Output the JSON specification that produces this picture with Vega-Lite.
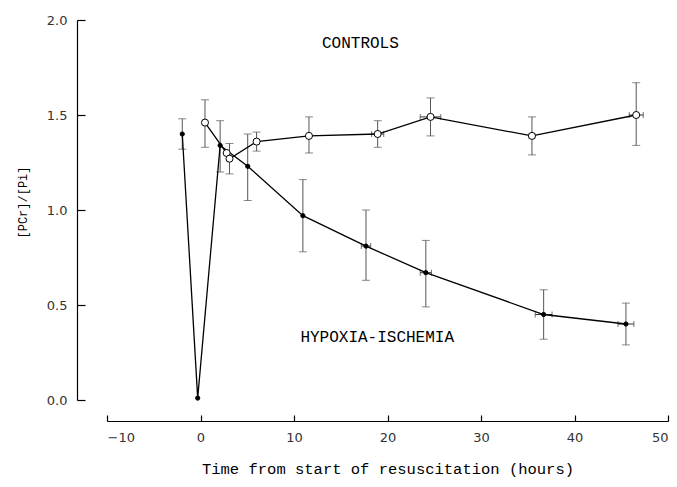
{
  "$schema": "https://vega.github.io/schema/vega-lite/v6.json",
  "width": 561,
  "height": 380,
  "autosize": {"type": "none"},
  "padding": {"left": 107, "top": 20, "right": 9, "bottom": 87},
  "background": "white",
  "config": {"view": {"stroke": null}},
  "datasets": {
    "pts": [
      {"group": "hypoxia", "t": -1.95, "v": 1.40, "vlo": 1.32, "vhi": 1.48},
      {"group": "hypoxia", "t": -0.3, "v": 0.01},
      {"group": "hypoxia", "t": 2.1, "v": 1.34, "vlo": 1.20, "vhi": 1.47},
      {"group": "hypoxia", "t": 5.05, "v": 1.23, "vlo": 1.05, "vhi": 1.40},
      {"group": "hypoxia", "t": 10.95, "v": 0.97, "vlo": 0.78, "vhi": 1.16},
      {"group": "hypoxia", "t": 17.7, "v": 0.81, "vlo": 0.63, "vhi": 1.00, "tlo": 17.2, "thi": 18.2},
      {"group": "hypoxia", "t": 24.1, "v": 0.67, "vlo": 0.49, "vhi": 0.84, "tlo": 23.5, "thi": 24.7},
      {"group": "hypoxia", "t": 36.7, "v": 0.45, "vlo": 0.32, "vhi": 0.58, "tlo": 35.8, "thi": 37.6},
      {"group": "hypoxia", "t": 45.5, "v": 0.40, "vlo": 0.29, "vhi": 0.51, "tlo": 44.65, "thi": 46.35},
      {"group": "controls", "t": 0.48, "v": 1.46, "vlo": 1.33, "vhi": 1.58},
      {"group": "controls", "t": 2.8, "v": 1.30},
      {"group": "controls", "t": 3.1, "v": 1.27, "vlo": 1.19, "vhi": 1.35},
      {"group": "controls", "t": 6.0, "v": 1.36, "vlo": 1.31, "vhi": 1.41},
      {"group": "controls", "t": 11.6, "v": 1.39, "vlo": 1.30, "vhi": 1.49},
      {"group": "controls", "t": 18.95, "v": 1.40, "vlo": 1.33, "vhi": 1.47, "tlo": 18.3, "thi": 19.6},
      {"group": "controls", "t": 24.6, "v": 1.49, "vlo": 1.39, "vhi": 1.59, "tlo": 23.5, "thi": 25.7},
      {"group": "controls", "t": 35.45, "v": 1.39, "vlo": 1.29, "vhi": 1.49, "tlo": 35.15, "thi": 35.75},
      {"group": "controls", "t": 46.6, "v": 1.50, "vlo": 1.34, "vhi": 1.67, "tlo": 45.85, "thi": 47.35}
    ],
    "labels": [
      {"label": "CONTROLS", "t": 17.1, "v": 1.877},
      {"label": "HYPOXIA-ISCHEMIA", "t": 18.9, "v": 0.333}
    ]
  },
  "layer": [
    {
      "data": {"name": "pts"},
      "transform": [{"filter": "isValid(datum.vlo)"}],
      "mark": {"type": "rule", "color": "#555", "strokeWidth": 1},
      "encoding": {
        "x": {"field": "t", "type": "quantitative", "scale": {"domain": [-10, 50], "nice": false, "zero": false},
          "axis": {
            "values": [-10, 0, 10, 20, 30, 40, 50], "format": "d", "grid": false, "offset": 21,
            "tickSize": -6, "tickColor": "black", "domainColor": "black", "domainWidth": 1.2, "tickWidth": 1.2,
            "labelPadding": 16, "labelFont": "DejaVu Sans", "labelFontSize": 13, "labelColor": "#333",
            "title": "Time from start of resuscitation (hours)", "titleFont": "Liberation Mono", "titleFontSize": 15.5,
            "titleFontWeight": "normal", "titleColor": "black", "titleY": 47, "titleBaseline": "middle"
          }},
        "y": {"field": "vlo", "type": "quantitative", "scale": {"domain": [0, 2], "nice": false},
          "axis": {
            "values": [0, 0.5, 1, 1.5, 2], "format": ".1f", "grid": false, "offset": 30,
            "tickSize": -8, "tickColor": "black", "domainColor": "black", "domainWidth": 1.2, "tickWidth": 1.2,
            "labelPadding": 18, "labelFont": "DejaVu Sans", "labelFontSize": 13, "labelColor": "#333",
            "title": "[PCr]/[Pi]", "titleFont": "Liberation Mono", "titleFontSize": 12,
            "titleFontWeight": "normal", "titleColor": "black", "titleX": -55, "titleY": 182, "titleBaseline": "middle"
          }},
        "y2": {"field": "vhi"}
      }
    },
    {
      "data": {"name": "pts"},
      "transform": [{"filter": "isValid(datum.vlo)"}],
      "mark": {"type": "tick", "color": "#555", "orient": "horizontal", "size": 8, "thickness": 1},
      "encoding": {
        "x": {"field": "t", "type": "quantitative"},
        "y": {"field": "vlo", "type": "quantitative"}
      }
    },
    {
      "data": {"name": "pts"},
      "transform": [{"filter": "isValid(datum.vhi)"}],
      "mark": {"type": "tick", "color": "#555", "orient": "horizontal", "size": 8, "thickness": 1},
      "encoding": {
        "x": {"field": "t", "type": "quantitative"},
        "y": {"field": "vhi", "type": "quantitative"}
      }
    },
    {
      "data": {"name": "pts"},
      "transform": [{"filter": "isValid(datum.tlo)"}],
      "mark": {"type": "rule", "color": "#333", "strokeWidth": 1},
      "encoding": {
        "x": {"field": "tlo", "type": "quantitative"},
        "x2": {"field": "thi"},
        "y": {"field": "v", "type": "quantitative"}
      }
    },
    {
      "data": {"name": "pts"},
      "transform": [{"filter": "isValid(datum.tlo)"}],
      "mark": {"type": "tick", "color": "#333", "orient": "vertical", "size": 6, "thickness": 1},
      "encoding": {
        "x": {"field": "tlo", "type": "quantitative"},
        "y": {"field": "v", "type": "quantitative"}
      }
    },
    {
      "data": {"name": "pts"},
      "transform": [{"filter": "isValid(datum.thi)"}],
      "mark": {"type": "tick", "color": "#333", "orient": "vertical", "size": 6, "thickness": 1},
      "encoding": {
        "x": {"field": "thi", "type": "quantitative"},
        "y": {"field": "v", "type": "quantitative"}
      }
    },
    {
      "data": {"name": "pts"},
      "mark": {"type": "line", "color": "black", "strokeWidth": 1.3},
      "encoding": {
        "x": {"field": "t", "type": "quantitative"},
        "y": {"field": "v", "type": "quantitative"},
        "detail": {"field": "group"},
        "order": {"field": "t"}
      }
    },
    {
      "data": {"name": "pts"},
      "mark": {"type": "point", "shape": "circle", "filled": true, "stroke": "black", "strokeWidth": 1, "opacity": 1},
      "encoding": {
        "x": {"field": "t", "type": "quantitative"},
        "y": {"field": "v", "type": "quantitative"},
        "fill": {"field": "group", "type": "nominal", "scale": {"domain": ["controls", "hypoxia"], "range": ["white", "black"]}, "legend": null},
        "size": {"field": "group", "type": "nominal", "scale": {"domain": ["controls", "hypoxia"], "range": [50, 18]}, "legend": null}
      }
    },
    {
      "data": {"name": "labels"},
      "mark": {"type": "text", "font": "Liberation Mono", "fontSize": 16, "color": "black", "align": "center", "baseline": "middle"},
      "encoding": {
        "x": {"field": "t", "type": "quantitative"},
        "y": {"field": "v", "type": "quantitative"},
        "text": {"field": "label"}
      }
    }
  ]
}
